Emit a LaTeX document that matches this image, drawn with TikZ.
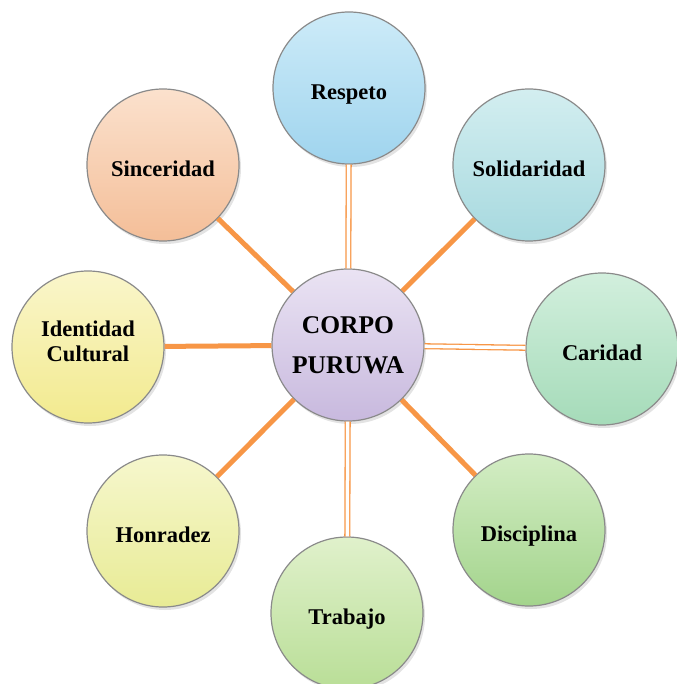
\documentclass[tikz,border=0pt]{standalone}
\usepackage{fontspec}
\setmainfont{Liberation Serif}
\usetikzlibrary{shadows}

\definecolor{spokeorange}{HTML}{F79646}
\definecolor{rimgray}{HTML}{8A8A8A}
% fills, light top / deeper bottom
\definecolor{corpotop}{HTML}{EAE3F3}\definecolor{corpobot}{HTML}{C8B9DE}
\definecolor{respetotop}{HTML}{CDEBF8}\definecolor{respetobot}{HTML}{9FD4EE}
\definecolor{solidtop}{HTML}{D3EEF0}\definecolor{solidbot}{HTML}{A7D9DF}
\definecolor{caridadtop}{HTML}{D2EFDD}\definecolor{caridadbot}{HTML}{A5DBB9}
\definecolor{disciptop}{HTML}{D3EDC4}\definecolor{discipbot}{HTML}{A3D48C}
\definecolor{trabajotop}{HTML}{E0F1CB}\definecolor{trabajobot}{HTML}{B9DE97}
\definecolor{honratop}{HTML}{F6F7CD}\definecolor{honrabot}{HTML}{E8EB95}
\definecolor{identtop}{HTML}{FAF6CB}\definecolor{identbot}{HTML}{F2EA8E}
\definecolor{sincertop}{HTML}{FBE1CD}\definecolor{sincerbot}{HTML}{F4BE98}

\tikzset{
    bubble/.style={circle, draw=rimgray, line width=1.2pt, minimum size=152pt,
        inner sep=0pt, align=center,
        font=\fontsize{22.5}{25}\selectfont\bfseries,
        drop shadow={opacity=0.22, shadow xshift=2pt, shadow yshift=-3pt}},
    petal/.style={bubble, text height=23pt, text depth=0pt},
    spoke/.style={draw=spokeorange, line width=5pt},
    twin/.style={draw=spokeorange, double=white, double distance=3.5pt, line width=1.3pt}
}

\begin{document}
\begin{tikzpicture}[x=1pt, y=-1pt]
    \useasboundingbox (0,0) rectangle (676,684);

    % Center
    \node[bubble, top color=corpotop, bottom color=corpobot,
        font=\fontsize{25.5}{40}\selectfont\bfseries] (corpo) at (348,345) {CORPO\\PURUWA};

    % Values around
    \node[petal, top color=respetotop, bottom color=respetobot] (respeto) at (349,88) {Respeto};
    \node[petal, top color=solidtop, bottom color=solidbot] (solid) at (529,165) {Solidaridad};
    \node[petal, top color=caridadtop, bottom color=caridadbot] (caridad) at (602,349) {Caridad};
    \node[petal, top color=disciptop, bottom color=discipbot] (discip) at (529,530) {Disciplina};
    \node[petal, top color=trabajotop, bottom color=trabajobot] (trabajo) at (347,613) {Trabajo};
    \node[petal, top color=honratop, bottom color=honrabot] (honra) at (163,531) {Honradez};
    \node[bubble, text height=29pt, top color=identtop, bottom color=identbot] (ident) at (88,347) {Identidad\\Cultural};
    \node[petal, top color=sincertop, bottom color=sincerbot] (sincer) at (163,165) {Sinceridad};

    % Spokes
    \draw[spoke] (corpo) -- (sincer);
    \draw[spoke] (corpo) -- (solid);
    \draw[spoke] (corpo) -- (ident);
    \draw[spoke] (corpo) -- (honra);
    \draw[spoke] (corpo) -- (discip);
    \draw[twin] (corpo) -- (respeto);
    \draw[twin] (corpo) -- (caridad);
    \draw[twin] (corpo) -- (trabajo);
\end{tikzpicture}
\end{document}
